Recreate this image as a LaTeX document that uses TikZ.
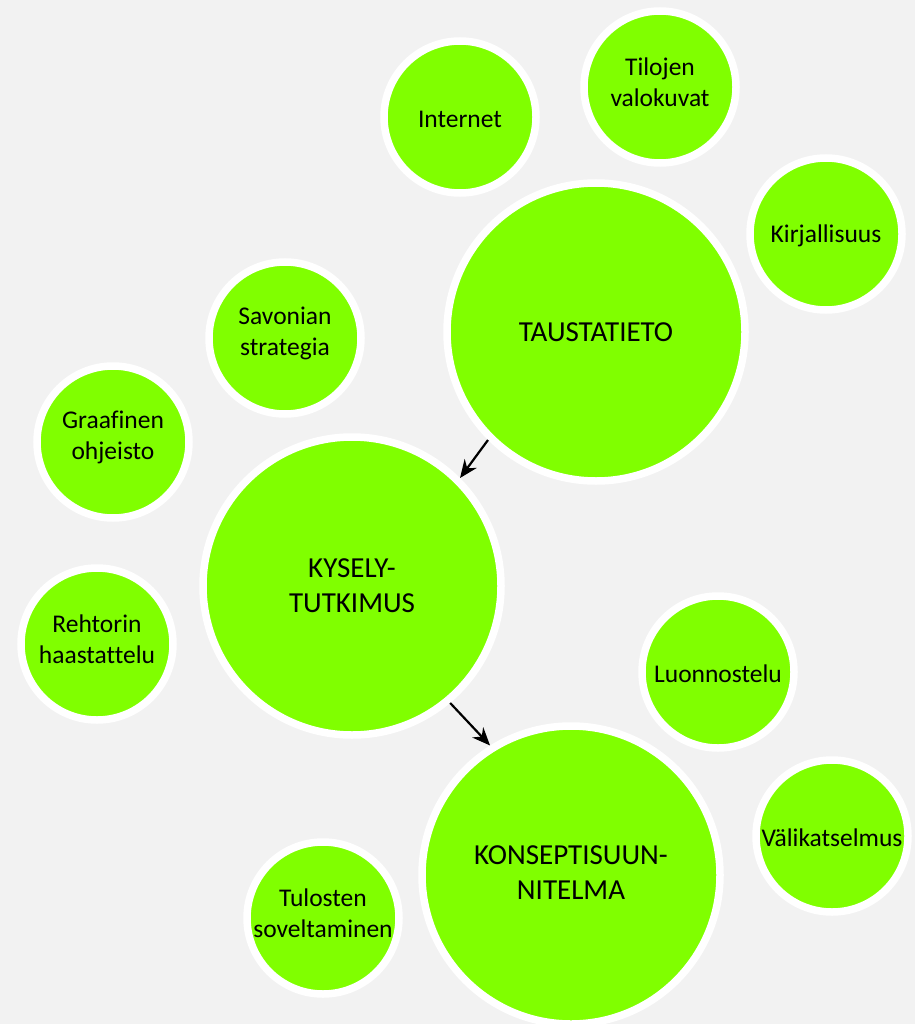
\documentclass[tikz,border=0pt]{standalone}
\usepackage{fontspec}
\setmainfont{Carlito}[Ligatures=CommonOff]
\usetikzlibrary{arrows.meta}
\definecolor{bubblegreen}{RGB}{128,255,0}
\definecolor{paper}{RGB}{242,242,242}

\begin{document}
\begin{tikzpicture}[x=1pt,y=-1pt,>={Stealth[length=18pt,width=15pt]},
  small node/.style={circle,fill=bubblegreen,draw=white,line width=7.5pt,inner sep=0pt,minimum size=152pt},
  main node/.style={small node,minimum size=298pt},
  small text/.style={align=center,font=\fontsize{25.5}{31}\selectfont,yshift=-2pt},
  two lines/.style={small text,yshift=7pt},
  main text/.style={align=center,font=\fontsize{29}{35}\selectfont}]

 \fill[paper] (0,0) rectangle (915,1024);
 \useasboundingbox (0,0) rectangle (915,1024);

 % three main steps
 \node[main node,label={[main text]center:TAUSTATIETO}] (taus) at (596,332) {};
 \node[main node,label={[main text]center:KYSELY-\\TUTKIMUS}] (kys) at (352,586) {};
 \node[main node,label={[main text,yshift=2pt]center:KONSEPTISUUN-\\NITELMA}] (kon) at (571,875) {};

 % small bubbles round them
 \node[small node,label={[small text]center:Internet}] (net) at (460,117) {};
 \node[small node,label={[two lines]center:Tilojen\\valokuvat}] (kuvat) at (660,87) {};
 \node[small node,label={[small text]center:Kirjallisuus}] (kirj) at (826,234) {};
 \node[small node,label={[two lines]center:Savonian\\strategia}] (sav) at (285,338) {};
 \node[small node,label={[two lines]center:Graafinen\\ohjeisto}] (graaf) at (113,442) {};
 \node[small node,label={[two lines]center:Rehtorin\\haastattelu}] (reht) at (97,644) {};
 \node[small node,label={[small text]center:Luonnostelu}] (luon) at (718,672) {};
 \node[small node,label={[small text]center:Välikatselmus}] (vali) at (832,836) {};
 \node[small node,label={[two lines]center:Tulosten\\soveltaminen}] (tul) at (323,918) {};

 \path[line width=2.2pt]
   (taus.225) edge[->] (kys.45)
   (kys.-50) edge[->] (kon.122);
\end{tikzpicture}
\end{document}
